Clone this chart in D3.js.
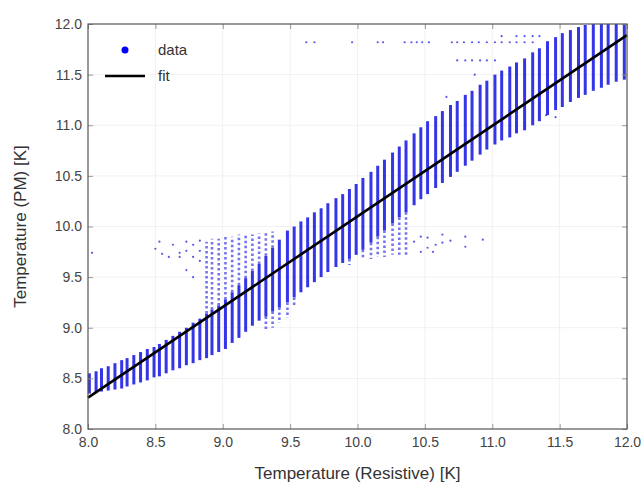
<!DOCTYPE html>
<html>
<head>
<meta charset="utf-8">
<script src="https://cdn.jsdelivr.net/npm/d3@7"></script>
<style>
  body { margin: 0; background: #fff; }
  text { font-family: "Liberation Sans", Arial, sans-serif; }
</style>
</head>
<body>
<div id="viz"></div>
<script>
const width = 641;
const height = 489;
const margin = {top: 24, right: 14, bottom: 60, left: 88};

// vertical columns of data points: x, dense low end, dense high end
const colX  = [8.01, 8.06, 8.10, 8.15, 8.20, 8.25, 8.29, 8.34, 8.39, 8.44, 8.49, 8.53, 8.58, 8.63, 8.68, 8.73, 8.78, 8.83, 8.88, 8.92,
               8.97, 9.02, 9.07, 9.12, 9.17, 9.22, 9.27, 9.32, 9.37, 9.42, 9.48, 9.53, 9.58, 9.63, 9.68, 9.73, 9.78, 9.84, 9.89, 9.94,
               9.99, 10.04, 10.10, 10.15, 10.20, 10.26, 10.31, 10.36, 10.42, 10.47, 10.52, 10.58, 10.63, 10.69, 10.74, 10.80, 10.85, 10.91, 10.96, 11.02,
               11.07, 11.13, 11.18, 11.24, 11.30, 11.35, 11.41, 11.47, 11.52, 11.58, 11.64, 11.69, 11.75, 11.81, 11.86, 11.92, 11.98];
const colLo = [8.35, 8.36, 8.37, 8.38, 8.39, 8.40, 8.42, 8.44, 8.46, 8.48, 8.51, 8.52, 8.55, 8.58, 8.60, 8.63, 8.65, 8.68, 8.70, 8.73,
               8.76, 8.79, 8.85, 8.90, 8.96, 9.02, 9.07, 9.11, 9.16, 9.20, 9.25, 9.30, 9.35, 9.40, 9.45, 9.50, 9.55, 9.60, 9.64, 9.68,
               9.72, 9.77, 9.84, 9.90, 9.96, 10.03, 10.09, 10.14, 10.21, 10.27, 10.32, 10.38, 10.43, 10.49, 10.54, 10.60, 10.65, 10.71, 10.76, 10.81,
               10.85, 10.88, 10.92, 10.95, 11.00, 11.04, 11.10, 11.15, 11.18, 11.23, 11.27, 11.30, 11.34, 11.37, 11.40, 11.43, 11.45];
const colHi = [8.55, 8.57, 8.60, 8.62, 8.65, 8.68, 8.70, 8.73, 8.76, 8.79, 8.81, 8.84, 8.88, 8.92, 8.96, 9.00, 9.05, 9.09, 9.14, 9.18,
               9.22, 9.28, 9.35, 9.42, 9.49, 9.56, 9.63, 9.71, 9.79, 9.87, 9.96, 10.00, 10.05, 10.09, 10.14, 10.18, 10.23, 10.28, 10.32, 10.37,
               10.42, 10.48, 10.54, 10.60, 10.66, 10.73, 10.79, 10.85, 10.92, 10.98, 11.04, 11.09, 11.14, 11.20, 11.24, 11.30, 11.34, 11.40, 11.44, 11.50,
               11.54, 11.58, 11.62, 11.66, 11.72, 11.76, 11.83, 11.87, 11.91, 11.94, 11.97, 11.99, 12.0, 12.0, 12.0, 12.0, 12.0];

// sparse extensions of some columns
const tailX    = [8.88, 8.92, 8.97, 9.02, 9.07, 9.12, 9.17, 9.22, 9.27, 9.32, 9.37,
                  9.32, 9.37, 9.42, 9.48, 9.53,
                  9.94, 10.04, 10.10, 10.15, 10.20, 10.26, 10.31, 10.36];
const tailFrom = [9.14, 9.18, 9.22, 9.28, 9.35, 9.42, 9.49, 9.56, 9.63, 9.71, 9.79,
                  9.11, 9.16, 9.20, 9.25, 9.30,
                  9.68, 9.77, 9.84, 9.90, 9.96, 10.03, 10.09, 10.14];
const tailTo   = [9.85, 9.88, 9.88, 9.90, 9.90, 9.92, 9.92, 9.92, 9.93, 9.95, 9.95,
                  8.98, 9.00, 9.05, 9.10, 9.20,
                  9.62, 9.68, 9.68, 9.70, 9.70, 9.72, 9.72, 9.72];

// stray points
const strayX = [9.62, 9.68, 9.96, 10.15, 10.19, 10.35, 10.40, 10.44, 10.48, 10.53, 10.70, 10.74, 10.79, 10.85, 10.90, 10.96, 11.02, 11.07, 11.13, 11.18, 11.24, 11.30,
                11.07, 11.18, 11.24, 11.30, 11.35,
                10.74, 10.80, 10.85, 10.91, 10.96, 11.02,
                10.66, 10.87, 11.40, 11.47,
                8.03, 8.53, 8.55, 8.63, 8.68, 8.68, 8.73, 8.73, 8.78, 8.78, 8.83, 8.83, 8.83, 8.73, 8.78, 8.60, 8.50,
                10.42, 10.47, 10.47, 10.52, 10.52, 10.56, 10.63, 10.63, 10.69, 10.80, 10.80, 10.93, 10.58];
const strayY = [11.82, 11.82, 11.82, 11.82, 11.82, 11.82, 11.82, 11.82, 11.82, 11.82, 11.82, 11.82, 11.82, 11.82, 11.82, 11.82, 11.82, 11.82, 11.82, 11.82, 11.82, 11.82,
                11.88, 11.88, 11.88, 11.88, 11.88,
                11.64, 11.64, 11.64, 11.64, 11.64, 11.64,
                11.28, 11.50, 11.10, 11.08,
                9.74, 9.85, 9.73, 9.82, 9.74, 9.70, 9.85, 9.76, 9.82, 9.70, 9.86, 9.76, 9.66, 9.57, 9.50, 9.70, 9.78,
                9.85, 9.75, 9.90, 9.89, 9.79, 9.75, 9.92, 9.84, 9.86, 9.90, 9.80, 9.87, 9.82];

// linear fit
const fitX = [8.0, 12.0];
const fitY = [8.31, 11.89];

const ticks = [8.0, 8.5, 9.0, 9.5, 10.0, 10.5, 11.0, 11.5, 12.0];

const x = d3.scaleLinear().domain([8, 12]).range([margin.left, width - margin.right]);
const y = d3.scaleLinear().domain([8, 12]).range([429, margin.top]);

const svg = d3.select('#viz').append('svg')
  .attr('width', width)
  .attr('height', height);

svg.append('rect').attr('width', width).attr('height', height).attr('fill', '#fff');

// faint grid
const grid = svg.append('g').attr('stroke', '#f1f1f1').attr('stroke-width', 1);
grid.selectAll('.gx').data(ticks.slice(1, -1)).join('line')
  .attr('x1', d => x(d)).attr('x2', d => x(d))
  .attr('y1', y(12)).attr('y2', y(8));
grid.selectAll('.gy').data(ticks.slice(1, -1)).join('line')
  .attr('y1', d => y(d)).attr('y2', d => y(d))
  .attr('x1', x(8)).attr('x2', x(12));

const plot = svg.append('g');

// dense columns
plot.selectAll('.col')
  .data(colX.map((d, i) => ({x: d, lo: colLo[i], hi: colHi[i]})))
  .join('line')
    .attr('x1', d => x(d.x)).attr('x2', d => x(d.x))
    .attr('y1', d => y(d.lo)).attr('y2', d => y(Math.min(d.hi, 12)))
    .attr('stroke', '#1f1fe6')
    .attr('stroke-width', 3)
    .attr('stroke-opacity', 0.9);

// sparse tails
plot.selectAll('.tail')
  .data(tailX.map((d, i) => ({x: d, a: tailFrom[i], b: tailTo[i]})))
  .join('line')
    .attr('x1', d => x(d.x)).attr('x2', d => x(d.x))
    .attr('y1', d => y(d.a)).attr('y2', d => y(d.b))
    .attr('stroke', '#2a2ae6')
    .attr('stroke-width', 2.6)
    .attr('stroke-dasharray', '2.5,2.5')
    .attr('stroke-opacity', 0.65);

// stray points
plot.selectAll('.stray')
  .data(strayX.map((d, i) => ({x: d, y: strayY[i]})))
  .join('circle')
    .attr('cx', d => x(d.x)).attr('cy', d => y(d.y))
    .attr('r', 1.1)
    .attr('fill', '#3030e0')
    .attr('fill-opacity', 0.8);

// fit line
plot.append('line')
  .attr('x1', x(fitX[0])).attr('y1', y(fitY[0]))
  .attr('x2', x(fitX[1])).attr('y2', y(fitY[1]))
  .attr('stroke', '#000')
  .attr('stroke-width', 2.6);

// axes, ticks inside
const fmt = d3.format('.1f');
const axB = svg.append('g')
  .attr('transform', `translate(0, ${y(8)})`)
  .call(d3.axisBottom(x).tickValues(ticks).tickFormat(fmt).tickSizeInner(-5).tickSizeOuter(0).tickPadding(8));
const axL = svg.append('g')
  .attr('transform', `translate(${x(8)}, 0)`)
  .call(d3.axisLeft(y).tickValues(ticks).tickFormat(fmt).tickSizeInner(-5).tickSizeOuter(0).tickPadding(6));
const axT = svg.append('g')
  .attr('transform', `translate(0, ${y(12)})`)
  .call(d3.axisTop(x).tickValues(ticks).tickFormat('').tickSizeInner(-5).tickSizeOuter(0));
const axR = svg.append('g')
  .attr('transform', `translate(${x(12)}, 0)`)
  .call(d3.axisRight(y).tickValues(ticks).tickFormat('').tickSizeInner(-5).tickSizeOuter(0));

[axB, axL, axT, axR].forEach(a => {
  a.select('.domain').remove();
  a.selectAll('.tick line').attr('stroke', '#999');
  a.selectAll('.tick text')
    .attr('font-size', 14)
    .attr('fill', '#444')
    .style('font-family', '"Liberation Sans", Arial, sans-serif');
});

// frame
svg.append('rect')
  .attr('x', x(8)).attr('y', y(12))
  .attr('width', x(12) - x(8)).attr('height', y(8) - y(12))
  .attr('fill', 'none')
  .attr('stroke', '#555')
  .attr('stroke-width', 1.2);

// axis titles
svg.append('text')
  .attr('x', (x(8) + x(12)) / 2)
  .attr('y', 479)
  .attr('text-anchor', 'middle')
  .attr('font-size', 17)
  .attr('fill', '#333')
  .text('Temperature (Resistive) [K]');

svg.append('text')
  .attr('transform', `translate(26, ${(y(8) + y(12)) / 2}) rotate(-90)`)
  .attr('text-anchor', 'middle')
  .attr('font-size', 17)
  .attr('fill', '#333')
  .text('Temperature (PM) [K]');

// legend
const legend = svg.append('g');
legend.append('circle')
  .attr('cx', 125).attr('cy', 50).attr('r', 3.5)
  .attr('fill', '#0000ff');
legend.append('text')
  .attr('x', 158).attr('y', 55)
  .attr('font-size', 15).attr('fill', '#333')
  .text('data');
legend.append('line')
  .attr('x1', 105).attr('x2', 145).attr('y1', 76).attr('y2', 76)
  .attr('stroke', '#000').attr('stroke-width', 2.6);
legend.append('text')
  .attr('x', 158).attr('y', 81)
  .attr('font-size', 15).attr('fill', '#333')
  .text('fit');
</script>
</body>
</html>
